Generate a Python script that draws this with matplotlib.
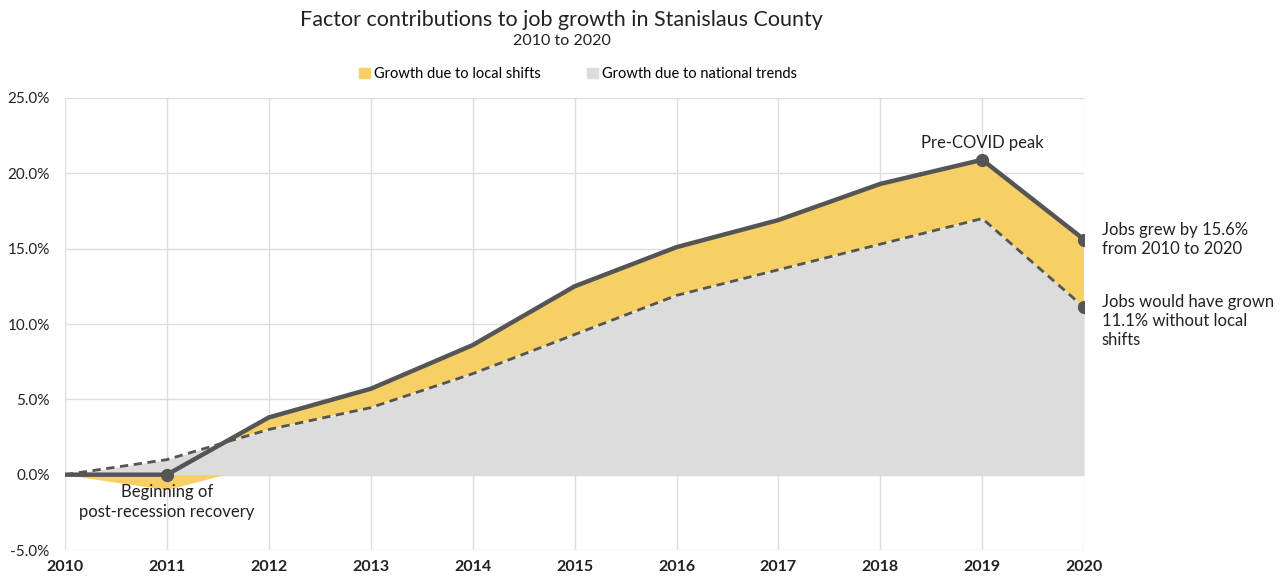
import matplotlib
matplotlib.use("Agg")
import matplotlib.pyplot as plt
from matplotlib.patches import Patch
from matplotlib.ticker import FuncFormatter

plt.rcParams['font.family'] = ['Lato', 'DejaVu Sans']

years = [2010, 2011, 2012, 2013, 2014, 2015, 2016, 2017, 2018, 2019, 2020]
total_growth = [0.0, 0.0, 3.8, 5.7, 8.6, 12.5, 15.1, 16.9, 19.3, 20.9, 15.6]
national_growth = [0.0, 1.0, 3.0, 4.45, 6.7, 9.3, 11.9, 13.6, 15.3, 17.0, 11.1]
local_shift = [t - n for t, n in zip(total_growth, national_growth)]

yellow = "#F6D064"
grey_fill = "#DCDCDC"
line_col = "#555555"
text_col = "#222222"

fig = plt.figure(figsize=(12.82, 5.84), dpi=100)
ax = fig.add_axes([0.0507, 0.0582, 0.795, 0.774])

# local shifts (yellow) between national and total, negative part below zero
ax.fill_between(years, national_growth, total_growth,
                where=[l >= 0 for l in local_shift], interpolate=True,
                color=yellow, lw=0, zorder=2)
ax.fill_between(years, 0, local_shift,
                where=[l <= 0 for l in local_shift], interpolate=True,
                color=yellow, lw=0, zorder=2)
ax.fill_between(years, 0, national_growth, color=grey_fill, lw=0, zorder=3)

ax.plot(years, national_growth, color=line_col, lw=2.0, ls=(0, (3, 2)), zorder=4)
ax.plot(years, total_growth, color=line_col, lw=3.2, zorder=5, solid_joinstyle="round")

mark_idx = [1, 9, 10]
ax.plot([years[i] for i in mark_idx], [total_growth[i] for i in mark_idx], "o",
        color=line_col, ms=8.5, zorder=6)
ax.plot([years[-1]], [national_growth[-1]], "o", color=line_col, ms=8.5, zorder=6)

ax.set_xlim(2010, 2020)
ax.set_ylim(-5, 25)
ax.set_xticks(years)
ax.set_yticks([-5, 0, 5, 10, 15, 20, 25])
ax.yaxis.set_major_formatter(FuncFormatter(lambda v, p: f"{v:.1f}%"))
ax.grid(True, color="#DDDDDD", lw=1, zorder=0)
ax.set_axisbelow(True)
for s in ax.spines.values():
    s.set_visible(False)
ax.tick_params(length=0, labelsize=11.5, colors=text_col)
ax.tick_params(axis="y", labelsize=11, pad=11)
ax.tick_params(axis="x", pad=7)
for lab in ax.get_xticklabels():
    lab.set_fontweight("bold")

ann = dict(fontsize=12, color=text_col)
ax.text(2011.0, -0.65, "Beginning of\npost-recession recovery", ha="center", va="top",
        linespacing=1.25, **ann)
ax.text(2019.0, 21.5, "Pre-COVID peak", ha="center", va="bottom", **ann)
ax.text(2020.17, 15.6, "Jobs grew by 15.6%\nfrom 2010 to 2020", ha="left", va="center",
        linespacing=1.2, clip_on=False, **ann)
ax.text(2020.17, 10.2, "Jobs would have grown\n11.1% without local\nshifts", ha="left",
        va="center", linespacing=1.2, clip_on=False, **ann)

fig.text(0.438, 0.965, "Factor contributions to job growth in Stanislaus County",
         ha="center", va="center", fontsize=15.5, color=text_col)
fig.text(0.438, 0.93, "2010 to 2020", ha="center", va="center", fontsize=11.5, color=text_col)

handles = [Patch(color=yellow, label="Growth due to local shifts"),
           Patch(color=grey_fill, label="Growth due to national trends")]
fig.legend(handles=handles, loc="center", bbox_to_anchor=(0.451, 0.873), ncol=2,
           frameon=False, fontsize=10.5, handlelength=0.7, handleheight=0.7,
           handletextpad=0.3, columnspacing=3.2)

fig.savefig("out.png", dpi=100)
